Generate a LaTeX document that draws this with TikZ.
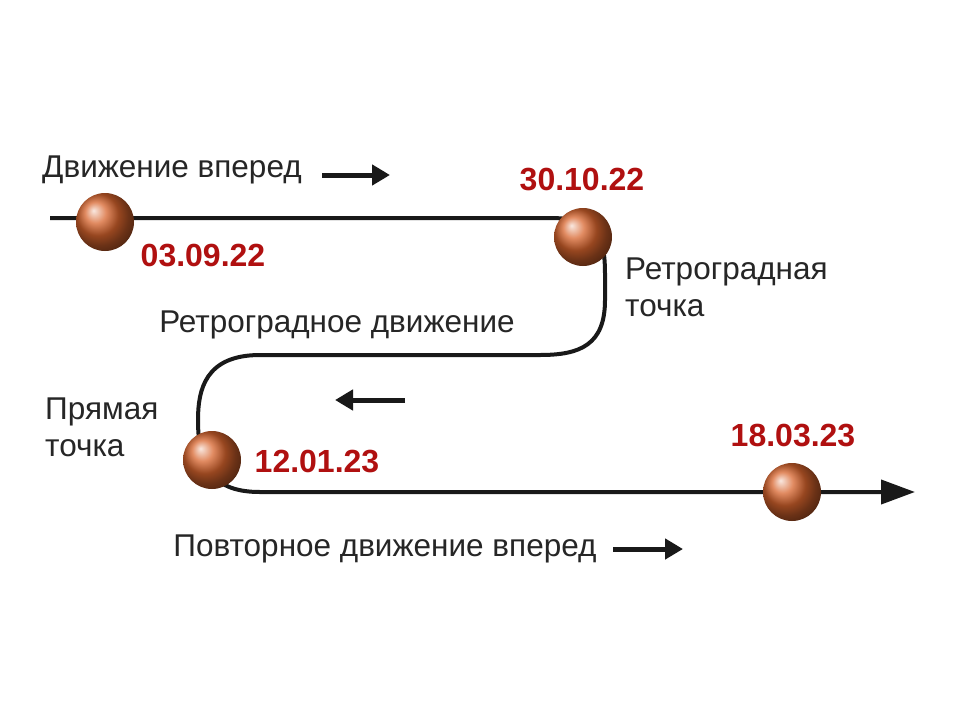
\documentclass[tikz,border=0pt]{standalone}
\usepackage{fontspec}
\setmainfont{Liberation Sans}
\usetikzlibrary{arrows.meta}
\definecolor{datered}{RGB}{176,16,16}
\definecolor{mars}{RGB}{215,100,45}
\tikzset{
  lbl/.style={font=\fontsize{31.5}{37}\selectfont, text=black!85, inner sep=0pt},
  datelbl/.style={font=\fontsize{32}{37}\selectfont\bfseries, text=datered, inner sep=0pt},
  planet/.style={circle, minimum size=58pt, inner sep=0pt, shading=ball, ball color=mars},
  orbit/.style={line width=4pt, black!90},
  smallarrow/.style={line width=5pt, black!90, -{Triangle[length=18pt,width=20pt]}}
}
\begin{document}
\begin{tikzpicture}[x=1pt,y=-1pt]
\useasboundingbox (0,0) rectangle (960,720);
\fill[white] (0,0) rectangle (960,720);
\coordinate (s) at (50,218);
\coordinate (e) at (915,492);
\draw[orbit, -{Triangle[length=34pt,width=24pt]}] (s) -- (550,218) .. controls (600,218) and (605,240) .. (605,275) -- (605,300) .. controls (605,345) and (580,355) .. (540,355) -- (260,355) .. controls (205,355) and (198,390) .. (198,420) .. controls (198,470) and (215,492) .. (260,492) -- (e);
\node[planet] (p1) at (105,222) {};
\node[planet] (p2) at (583,237) {};
\node[planet] (p3) at (212,460) {};
\node[planet] (p4) at (792,492) {};
\node[lbl, anchor=west] (t1) at (42,170) {Движение вперед};
\coordinate (a1s) at (322,175); \coordinate (a1e) at (390,175);
\draw[smallarrow] (a1s) -- (a1e);
\node[datelbl] (d1) at (582,180) {30.10.22};
\node[datelbl] (d2) at (203,256) {03.09.22};
\node[lbl, anchor=north west, align=left, font=\fontsize{31.5}{37}\selectfont] (rt) at (625,258) {Ретроградная\\точка};
\node[lbl] (rm) at (337,325) {Ретроградное движение};
\coordinate (a2s) at (405,400); \coordinate (a2e) at (335,400);
\draw[smallarrow] (a2s) -- (a2e);
\node[lbl, anchor=north west, align=left, font=\fontsize{31.5}{37}\selectfont] (pt) at (45,398) {Прямая\\точка};
\node[datelbl] (d3) at (317,461) {12.01.23};
\node[datelbl] (d4) at (793,436) {18.03.23};
\node[lbl] (pd) at (385,549) {Повторное движение вперед};
\coordinate (a3s) at (613,549); \coordinate (a3e) at (683,549);
\draw[smallarrow] (a3s) -- (a3e);
\end{tikzpicture}
\end{document}
